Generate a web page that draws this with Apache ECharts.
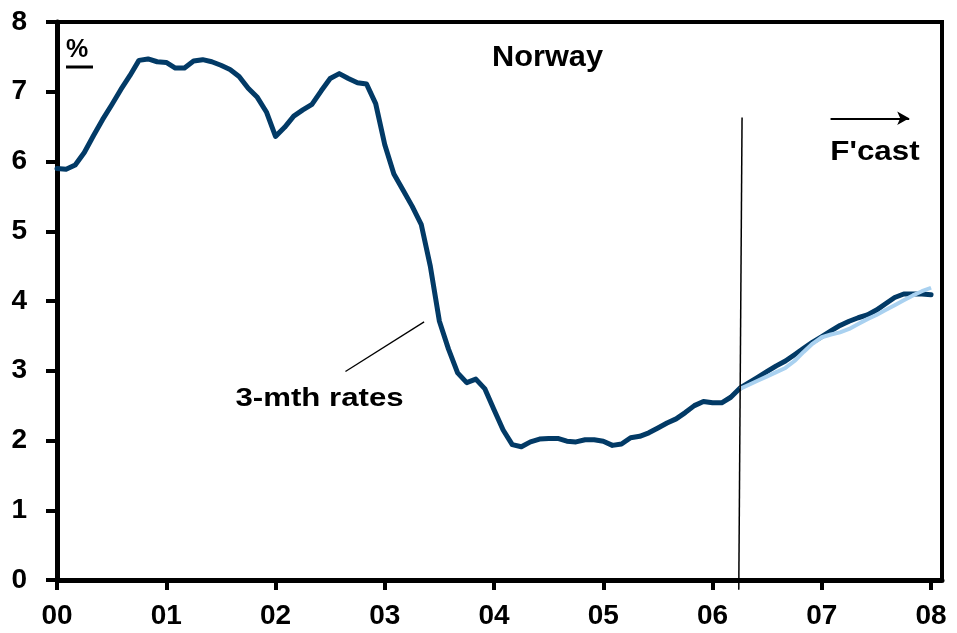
<!DOCTYPE html>
<html>
<head>
<meta charset="utf-8">
<script src="https://cdn.jsdelivr.net/npm/echarts@6/dist/echarts.min.js"></script>
<style>
  html, body { margin: 0; padding: 0; background: #fff; }
  #chart { width: 957px; height: 633px; }
</style>
</head>
<body>
<div id="chart"></div>
<script>
// Norway 3-month interest rates, monthly from Jan 2000 (x in years since 2000)
const startMonth = 0;
const rates3m = [
  5.90, 5.89, 5.95, 6.13, 6.37, 6.60, 6.81, 7.03, 7.23, 7.45, 7.47, 7.43,
  7.42, 7.34, 7.34, 7.44, 7.46, 7.43, 7.38, 7.32, 7.22, 7.05, 6.92, 6.71,
  6.36, 6.49, 6.65, 6.74, 6.82, 7.01, 7.19, 7.26, 7.19, 7.13, 7.11, 6.83,
  6.24, 5.82, 5.59, 5.36, 5.10, 4.50, 3.71, 3.31, 2.97, 2.83, 2.88, 2.74,
  2.44, 2.15, 1.94, 1.91, 1.98, 2.02, 2.03, 2.03, 1.99, 1.98, 2.01, 2.01,
  1.99, 1.93, 1.95, 2.04, 2.06, 2.11, 2.18, 2.25, 2.31, 2.40, 2.50, 2.56,
  2.54, 2.54, 2.62, 2.75, 2.83, 2.91, 2.99, 3.07, 3.14, 3.23, 3.32, 3.41,
  3.49, 3.57, 3.65, 3.71, 3.76, 3.80, 3.87, 3.96, 4.05, 4.10, 4.10, 4.10,
  4.09
];

// Alternative forecast path, starting Apr 2006
const forecastStartMonth = 75;
const forecastAlt = [
  2.74, 2.80, 2.86, 2.92, 2.98, 3.04, 3.14, 3.27, 3.39,
  3.48, 3.52, 3.55, 3.60, 3.67, 3.74, 3.80, 3.87, 3.94, 4.01, 4.08, 4.14,
  4.19
];

const yearLabels = ['00', '01', '02', '03', '04', '05', '06', '07', '08'];
const yTicks = [0, 1, 2, 3, 4, 5, 6, 7, 8];

// Forecast divider, "3-mth rates" pointer and forecast arrow (data coordinates)
const forecastDivider = [[6.27, 6.63], [6.24, -0.14]];
const ratesPointer = [[2.64, 2.99], [3.36, 3.70]];
const forecastArrow = [[7.08, 6.62], [7.80, 6.62]];

const toPairs = (vals, offset) => vals.map((v, i) => [(offset + i) / 12, v]);

const FONT = '"Liberation Sans", Arial, sans-serif';
const chart = echarts.init(document.getElementById('chart'), null, { renderer: 'canvas' });

const xTickValues = yearLabels.map((_, i) => i);

chart.setOption({
  animation: false,
  backgroundColor: '#ffffff',
  grid: {
    left: 57, right: 15, top: 22, bottom: 53,
    show: true, borderColor: '#000', borderWidth: 4
  },
  xAxis: {
    type: 'value',
    min: 0, max: 8.1, interval: 1,
    splitLine: { show: false },
    axisLine: { lineStyle: { color: '#000', width: 5 } },
    axisTick: { customValues: xTickValues, length: 10, lineStyle: { color: '#000', width: 4 } },
    axisLabel: {
      customValues: xTickValues,
      formatter: v => yearLabels[Math.round(v)],
      margin: 22,
      color: '#000', fontFamily: FONT, fontWeight: 'bold', fontSize: 28
    }
  },
  yAxis: {
    type: 'value',
    min: 0, max: 8, interval: 1,
    splitLine: { show: false },
    axisLine: { show: true, lineStyle: { color: '#000', width: 5 } },
    axisTick: { show: true, customValues: yTicks, length: 11, lineStyle: { color: '#000', width: 4 } },
    axisLabel: {
      customValues: yTicks,
      margin: 30,
      color: '#000', fontFamily: FONT, fontWeight: 'bold', fontSize: 28
    }
  },
  series: [
    {
      name: '3-mth rates',
      type: 'line',
      data: toPairs(rates3m, startMonth),
      showSymbol: false,
      lineStyle: { color: '#023a66', width: 5, cap: 'round', join: 'round' },
      z: 3
    },
    {
      name: 'Forecast',
      type: 'line',
      data: toPairs(forecastAlt, forecastStartMonth),
      showSymbol: false,
      lineStyle: { color: '#a9d1f0', width: 4, join: 'round' },
      z: 4
    },
    {
      type: 'line',
      data: forecastDivider,
      showSymbol: false,
      clip: false,
      silent: true,
      lineStyle: { color: '#000', width: 1.5 },
      z: 5
    },
    {
      type: 'line',
      data: ratesPointer,
      showSymbol: false,
      clip: false,
      silent: true,
      lineStyle: { color: '#000', width: 1.3 },
      z: 5
    },
    {
      type: 'line',
      data: [],
      silent: true,
      markLine: {
        silent: true,
        symbol: ['none', 'arrow'],
        symbolSize: [10, 12],
        label: { show: false },
        lineStyle: { color: '#000', width: 2, type: 'solid' },
        data: [[{ coord: forecastArrow[0] }, { coord: forecastArrow[1] }]]
      }
    }
  ],
  graphic: [
    {
      type: 'text', left: 66, top: 38,
      style: { text: '%', fill: '#000', font: 'bold 25px ' + FONT }
    },
    {
      type: 'rect', shape: { x: 66, y: 65.5, width: 27, height: 3 },
      style: { fill: '#000' }
    },
    {
      type: 'text', x: 547.5, y: 58, scaleX: 1.06,
      style: {
        text: 'Norway', fill: '#000', font: 'bold 29px ' + FONT,
        align: 'center', verticalAlign: 'middle'
      }
    },
    {
      type: 'text', x: 875, y: 153, scaleX: 1.16,
      style: {
        text: "F'cast", fill: '#000', font: 'bold 27px ' + FONT,
        align: 'center', verticalAlign: 'middle'
      }
    },
    {
      type: 'text', x: 319.5, y: 399, scaleX: 1.2,
      style: {
        text: '3-mth rates', fill: '#000', font: 'bold 26px ' + FONT,
        align: 'center', verticalAlign: 'middle'
      }
    }
  ]
});
</script>
</body>
</html>
